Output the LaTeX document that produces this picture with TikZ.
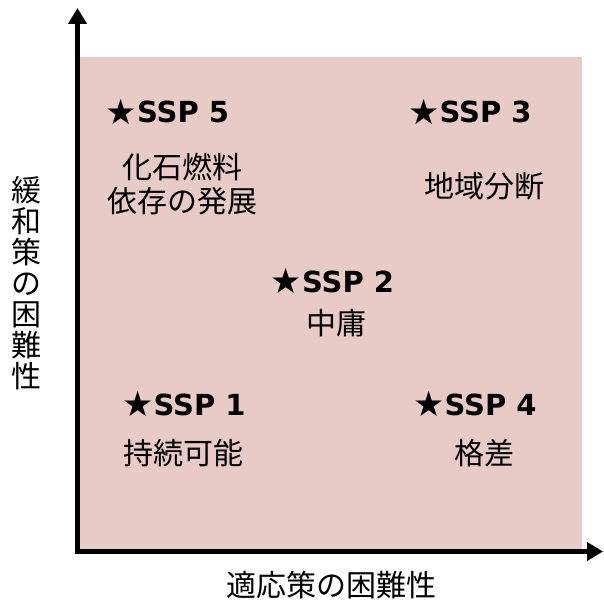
\documentclass[tikz,border=0pt]{standalone}
\usepackage{fontspec}
\setmainfont{DejaVu Sans}
\newfontfamily\jpfont{Noto Sans CJK JP}
\usetikzlibrary{arrows.meta}
\definecolor{panelpink}{RGB}{232,202,198}
\newcommand{\bigstarsym}{\raisebox{-0.05em}{\scalebox{1.2}{★}}}
\begin{document}
\begin{tikzpicture}[x=1pt,y=-1pt,
  ssp/.style={font=\fontsize{29}{32}\selectfont\bfseries, inner sep=0pt, anchor=base},
  jptext/.style={font=\jpfont\fontsize{30}{33}\selectfont, inner sep=0pt, align=center, anchor=center},
  axisarrow/.style={line width=5.5pt, -{Triangle[width=18pt,length=16pt]}}]
\useasboundingbox (0,0) rectangle (603,604);
\fill[panelpink] (80,57) rectangle (582,549);
\coordinate (oy) at (77.5,554);
\coordinate (ytip) at (77.5,8);
\coordinate (ox) at (74.8,551.5);
\coordinate (xtip) at (603,551.5);
\draw[axisarrow] (oy) -- (ytip);
\draw[axisarrow] (ox) -- (xtip);
% labels
\node[ssp] (s5) at (167.5,123) {\bigstarsym SSP 5};
\node[jptext, font=\jpfont\fontsize{30}{34}\selectfont] (t5) at (182,184) {化石燃料\\依存の発展};
\node[ssp] (s3) at (470,123) {\bigstarsym SSP 3};
\node[jptext] (t3) at (484.5,186.5) {地域分断};
\node[ssp] (s2) at (332.5,292) {\bigstarsym SSP 2};
\node[jptext] (t2) at (336.5,323.5) {中庸};
\node[ssp] (s1) at (184,415) {\bigstarsym SSP 1};
\node[jptext] (t1) at (183,453.5) {持続可能};
\node[ssp] (s4) at (475,415) {\bigstarsym SSP 4};
\node[jptext] (t4) at (484,453.5) {格差};
\node[jptext] (xl) at (331,585.5) {適応策の困難性};
\node[jptext, font=\jpfont\fontsize{30}{31}\selectfont] (yl) at (27,283.5) {緩\\和\\策\\の\\困\\難\\性};
\end{tikzpicture}
\end{document}
